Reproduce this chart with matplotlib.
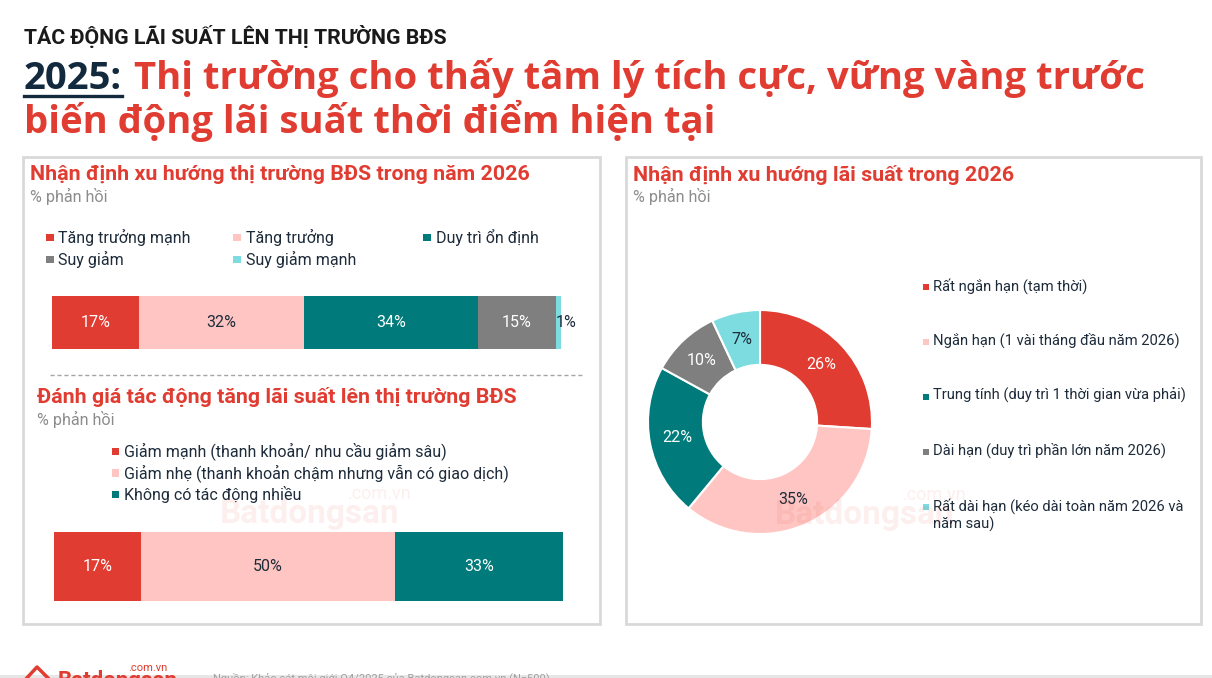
import matplotlib
matplotlib.use("Agg")
import matplotlib.pyplot as plt
from matplotlib.patches import Rectangle
from matplotlib.lines import Line2D

W, H = 1212, 678

# ---- data ----
market_labels = ["Tăng trưởng mạnh", "Tăng trưởng", "Duy trì ổn định", "Suy giảm", "Suy giảm mạnh"]
market_values = [17, 32, 34, 15, 1]

impact_labels = ["Giảm mạnh (thanh khoản/ nhu cầu giảm sâu)",
                 "Giảm nhẹ (thanh khoản chậm nhưng vẫn có giao dịch)",
                 "Không có tác động nhiều"]
impact_values = [17, 50, 33]

rate_labels = ["Rất ngắn hạn (tạm thời)",
               "Ngắn hạn (1 vài tháng đầu năm 2026)",
               "Trung tính (duy trì 1 thời gian vừa phải)",
               "Dài hạn (duy trì phần lớn năm 2026)",
               "Rất dài hạn (kéo dài toàn năm 2026 và\nnăm sau)"]
rate_values = [26, 35, 22, 10, 7]

RED = "#e03c31"
PINK = "#ffc5c2"
TEAL = "#007a7a"
GRAY = "#7f7f7f"
CYAN = "#7ddce0"
DARK = "#1d2b3a"
NAVY = "#13293d"
SUB = "#8c8c8c"

market_colors = [RED, PINK, TEAL, GRAY, CYAN]
market_txt = ["white", DARK, "white", "white", DARK]
impact_colors = [RED, PINK, TEAL]
impact_txt = ["white", DARK, "white"]
rate_colors = [RED, PINK, TEAL, GRAY, CYAN]
rate_txt = ["white", DARK, "white", "white", DARK]

plt.rcParams['font.family'] = ['Roboto', 'DejaVu Sans']


def fx(x):
    return x / W


def fy(y):
    return 1 - y / H


fig = plt.figure(figsize=(W / 100, H / 100), dpi=100)
fig.patch.set_facecolor("white")
r = fig.canvas.get_renderer()

# ---- header ----
fig.text(fx(24), fy(36), "TÁC ĐỘNG LÃI SUẤT LÊN THỊ TRƯỜNG BĐS", fontsize=15.3,
         fontweight="bold", color="#1a1a1a", va="center")
t = fig.text(fx(24), fy(89), "2025:", fontsize=27.5, fontweight="bold", color=NAVY,
             va="baseline", family="Open Sans")
bb = t.get_window_extent(renderer=r)
fig.add_artist(Line2D([bb.x0 / W, bb.x1 / W], [fy(96), fy(96)], color=NAVY, lw=2.4))
fig.text((bb.x1 + 12) / W, fy(89), "Thị trường cho thấy tâm lý tích cực, vững vàng trước",
         fontsize=27.5, fontweight="bold", color=RED, va="baseline", family="Open Sans")
fig.text(fx(24), fy(133), "biến động lãi suất thời điểm hiện tại",
         fontsize=27.5, fontweight="bold", color=RED, va="baseline", family="Open Sans")

# ---- panels ----
for x0, x1 in [(23, 600), (626, 1201)]:
    fig.add_artist(Rectangle((fx(x0), fy(624)), (x1 - x0) / W, (624 - 157) / H,
                             transform=fig.transFigure, fill=False,
                             edgecolor="#d9d9d9", lw=2))

# watermark
for x, y in [(310, 514), (865, 515)]:
    fig.text(fx(x), fy(y), "Batdongsan", fontsize=24, fontweight="bold", color=RED,
             alpha=0.08, ha="center", va="center", zorder=10)
    fig.text(fx(x + 70), fy(y - 20), ".com.vn", fontsize=13, color=RED,
             alpha=0.08, ha="center", va="center", zorder=10)

# ---- panel 1 top ----
fig.text(fx(30), fy(175), "Nhận định xu hướng thị trường BĐS trong năm 2026",
         fontsize=15.4, fontweight="bold", color=RED, va="center")
fig.text(fx(30), fy(196), "% phản hồi", fontsize=11.6, color=SUB, va="center")

leg_pos = [(46, 237), (233, 237), (423, 237), (46, 259), (233, 259)]
for (x, y), lab, c in zip(leg_pos, market_labels, market_colors):
    fig.add_artist(Rectangle((fx(x), fy(y + 4)), 7.5 / W, 7.5 / H,
                             transform=fig.transFigure, color=c, lw=0))
    fig.text(fx(x + 12.5), fy(y), lab, fontsize=11.5, color=DARK, va="center")

ax1 = fig.add_axes([fx(51.7), fy(348.7), 509 / W, 52.7 / H])
left = 0
for v, c, tc in zip(market_values, market_colors, market_txt):
    ax1.barh(0, v, left=left, height=1, color=c, lw=0)
    if v < 3:
        ax1.text(left, 0, f"{v}%", ha="left", va="center", fontsize=11.5,
                 color=tc, clip_on=False)
    else:
        ax1.text(left + v / 2, 0, f"{v}%", ha="center", va="center", fontsize=11.5,
                 color=tc)
    left += v
ax1.set_xlim(0, sum(market_values))
ax1.set_ylim(-0.5, 0.5)
ax1.axis("off")

fig.add_artist(Line2D([fx(50), fx(583)], [fy(375), fy(375)], color="#a6a6a6",
                      lw=1, ls=(0, (3, 2))))

# ---- panel 1 bottom ----
fig.text(fx(37), fy(397), "Đánh giá tác động tăng lãi suất lên thị trường BĐS",
         fontsize=15.4, fontweight="bold", color=RED, va="center")
fig.text(fx(37), fy(419), "% phản hồi", fontsize=11.6, color=SUB, va="center")

for i, (lab, c) in enumerate(zip(impact_labels, impact_colors)):
    y = 451 + i * 21.7
    fig.add_artist(Rectangle((fx(111.7), fy(y + 4)), 7.5 / W, 7.5 / H,
                             transform=fig.transFigure, color=c, lw=0))
    fig.text(fx(124), fy(y), lab, fontsize=11.5, color=DARK, va="center")

ax2 = fig.add_axes([fx(54), fy(600.7), 509 / W, 68.7 / H])
left = 0
for v, c, tc in zip(impact_values, impact_colors, impact_txt):
    ax2.barh(0, v, left=left, height=1, color=c, lw=0)
    ax2.text(left + v / 2, 0, f"{v}%", ha="center", va="center", fontsize=11.5, color=tc)
    left += v
ax2.set_xlim(0, sum(impact_values))
ax2.set_ylim(-0.5, 0.5)
ax2.axis("off")

# ---- panel 2 ----
fig.text(fx(633), fy(175), "Nhận định xu hướng lãi suất trong 2026",
         fontsize=15.4, fontweight="bold", color=RED, va="center")
fig.text(fx(633), fy(196), "% phản hồi", fontsize=11.6, color=SUB, va="center")

R = 112
ax3 = fig.add_axes([fx(760 - R), fy(422 + R), 2 * R / W, 2 * R / H])
wedges, _, autotexts = ax3.pie(
    rate_values, colors=rate_colors, startangle=90, counterclock=False, radius=1,
    autopct=lambda p: f"{p:.0f}%", pctdistance=0.755,
    wedgeprops=dict(width=0.49, edgecolor="white", linewidth=1.5),
    textprops=dict(fontsize=11.5))
for at, tc in zip(autotexts, rate_txt):
    at.set_color(tc)
ax3.set_xlim(-1, 1)
ax3.set_ylim(-1, 1)

for i, (lab, c) in enumerate(zip(rate_labels, rate_colors)):
    y = 287 + i * 55
    fig.add_artist(Rectangle((fx(923), fy(y + 3)), 6 / W, 6 / H,
                             transform=fig.transFigure, color=c, lw=0))
    fig.text(fx(933), fy(y - 9), lab, fontsize=10.6, color=DARK, va="top",
             linespacing=1.25)

# ---- footer ----
fig.add_artist(Line2D([fx(25), fx(37), fx(50)], [fy(680), fy(667), fy(680)],
                      color=RED, lw=2.5))
fig.text(fx(58), fy(681), "Batdongsan", fontsize=16, fontweight="bold", color=RED,
         va="center")
fig.text(fx(128), fy(668), ".com.vn", fontsize=8, color=RED, va="center")
fig.text(fx(213), fy(678), "Nguồn: Khảo sát môi giới Q4/2025 của Batdongsan.com.vn (N=500)",
         fontsize=8, color="#a0a0a0", va="center")
fig.add_artist(Rectangle((0, 0), 1, 3 / H, transform=fig.transFigure,
                         color="#e6e6e6", lw=0))

fig.savefig("out.png", dpi=100)
